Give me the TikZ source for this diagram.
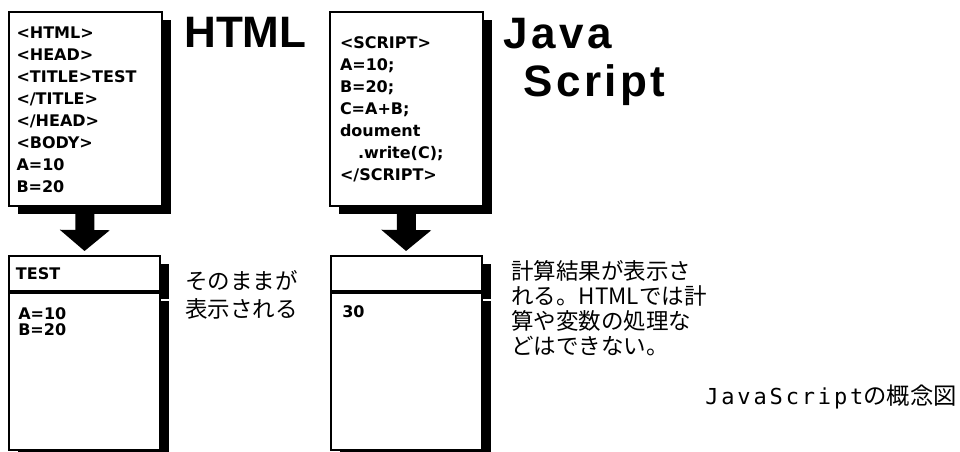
\documentclass[tikz,border=0pt]{standalone}
\usepackage{fontspec}
\usetikzlibrary{positioning,shadows,arrows.meta}
\newfontfamily\codefont{DejaVu Sans}
\newfontfamily\headfont{Liberation Sans}
\newfontfamily\jsheadfont[LetterSpace=8]{Liberation Sans}
\newfontfamily\jpfont{Noto Sans CJK JP}
\newfontfamily\capmono[LetterSpace=13]{DejaVu Sans Mono}
\tikzset{
  % a browser-like window: black frame with a solid black shadow
  window/.style={draw, line width=1.5pt, fill=white,
    general shadow={fill=black, shadow xshift=7pt, shadow yshift=-6pt}},
  code/.style={font=\codefont\bfseries\fontsize{12pt}{16.5pt}\selectfont},
  srcbox/.style={window, code, minimum width=114.75pt, minimum height=145.5pt,
    text width=102.75pt, inner xsep=6pt, align=left},
  titlebar/.style={window, code, minimum width=113.25pt, minimum height=26.25pt,
    text width=102.75pt, inner xsep=5.25pt, align=left},
  page/.style={window, minimum width=113.25pt, minimum height=117.75pt},
  values/.style={code, inner sep=0pt, align=left,
    font=\codefont\bfseries\fontsize{12pt}{12pt}\selectfont},
  note/.style={inner sep=0pt, align=left},
  bigword/.style={inner sep=0pt, align=left},
  fatarrow/.style={line width=14.25pt,
    -{Triangle[width=37.5pt,length=15.75pt,line width=0pt]}, shorten >=3pt},
}
\begin{document}
\begin{tikzpicture}[x=0.75pt,y=-0.75pt]
\useasboundingbox (0,0) rectangle (960,452);

% source code windows
\node[srcbox] (htmlsrc) at (85,109.5)
  {<HTML>\\<HEAD>\\<TITLE>TEST\\</TITLE>\\</HEAD>\\<BODY>\\A=10\\B=20};
\node[srcbox, inner xsep=7.5pt, text width=99.75pt] (jssrc) at (406.5,109.5)
  {<SCRIPT>\\A=10;\\B=20;\\C=A+B;\\doument\\\hspace*{13.5pt}.write(C);\\</SCRIPT>};

% what the browser shows
\node[titlebar, anchor=north] (htmlbar) at (84.5,255) {TEST};
\node[page, below=0pt of htmlbar] (htmlpage) {};
\node[titlebar, anchor=north] (jsbar) at (406,255) {};
\node[page, below=0pt of jsbar] (jspage) {};
\node[values, anchor=north west] (htmlvals) at (18,307) {A=10\\B=20};
\node[values, anchor=north west] (jsvals) at (342,305) {30};

\draw[fatarrow] (htmlsrc.south) -- (htmlbar.north);
\draw[fatarrow] (jssrc.south) -- (jsbar.north);

% headings
\node[bigword, anchor=base west, font=\headfont\bfseries\fontsize{33pt}{36pt}\selectfont]
  (htmltitle) at (184,48) {HTML};
\node[bigword, anchor=north west, font=\jsheadfont\bfseries\fontsize{33pt}{36pt}\selectfont]
  (jstitle) at (503,18) {Java\\\hspace*{15pt}Script};

% explanations
\node[note, anchor=north west, font=\jpfont\fontsize{16.875pt}{21pt}\selectfont]
  (plainnote) at (185,270) {そのままが\\表示される};
\node[note, anchor=north west, font=\jpfont\fontsize{16.875pt}{18.75pt}\selectfont]
  (calcnote) at (511,260) {計算結果が表示さ\\れる。HTMLでは計\\算や変数の処理な\\どはできない。};
\node[inner sep=0pt, anchor=base west] (caption) at (705,404)
  {{\capmono\fontsize{16.5pt}{18pt}\selectfont JavaScript}{\jpfont\fontsize{17.5pt}{18pt}\selectfont の概念図}};
\end{tikzpicture}
\end{document}
